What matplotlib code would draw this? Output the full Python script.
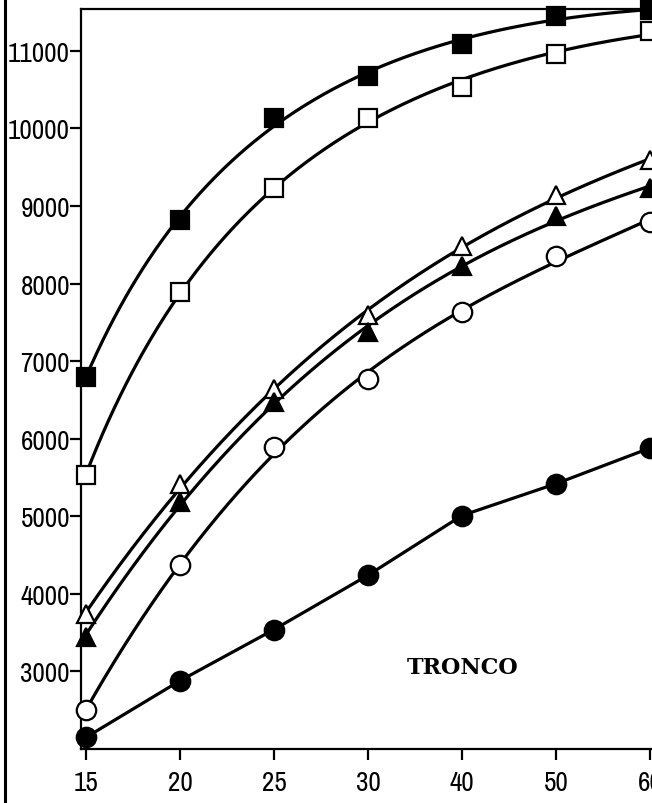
import matplotlib

matplotlib.use("Agg")
import matplotlib.pyplot as plt
from matplotlib.lines import Line2D
from matplotlib import font_manager
import numpy as np

# age classes on the x axis (equally spaced categories)
ages = [15, 20, 25, 30, 40, 50, 60]

# trunk values per series
filled_square = [6800, 8820, 10130, 10680, 11090, 11450, 11530]
open_square = [5530, 7890, 9230, 10140, 10540, 10960, 11260]
open_triangle = [3740, 5410, 6640, 7600, 8480, 9140, 9590]
filled_triangle = [3450, 5190, 6470, 7370, 8230, 8870, 9230]
open_circle = [2500, 4370, 5890, 6770, 7630, 8360, 8800]
filled_circle = [2150, 2880, 3540, 4240, 5010, 5420, 5880]

y_ticks = [3000, 4000, 5000, 6000, 7000, 8000, 9000, 10000, 11000]

# (values, marker, face colour, marker size, trend line: "log", "cubic" or None)
series = [
    (filled_square, "s", "black", 13, "log"),
    (open_square, "s", "white", 12.5, "log"),
    (open_triangle, "^", "white", 13, "cubic"),
    (filled_triangle, "^", "black", 13, "cubic"),
    (open_circle, "o", "white", 14, "cubic"),
    (filled_circle, "o", "black", 14, None),
]

names = sorted({f.name for f in font_manager.fontManager.ttflist})
narrow = [n for n in names if "Narrow" in n or "Condensed" in n]
label_family = [narrow[0], "DejaVu Sans"] if narrow else ["DejaVu Sans"]

fig = plt.figure(figsize=(6.52, 8.04), dpi=100)
ax = fig.add_axes([81 / 652, 54 / 804, (720 - 81) / 652, (794 - 54) / 804])

pos = np.arange(len(ages))
xs = np.linspace(pos[0], pos[-1], 300)
for vals, marker, face, ms, trend in series:
    vals = np.asarray(vals, dtype=float)
    if trend == "log":
        coef = np.polyfit(np.log(pos + 2.5), vals, 2)
        ax.plot(xs, np.polyval(coef, np.log(xs + 2.5)), color="black", lw=2.3,
                zorder=2, solid_capstyle="round")
    elif trend == "cubic":
        coef = np.polyfit(pos, vals, 3)
        ax.plot(xs, np.polyval(coef, xs), color="black", lw=2.3, zorder=2,
                solid_capstyle="round")
    else:
        ax.plot(pos, vals, color="black", lw=2.3, zorder=2)
    ax.plot(pos, vals, linestyle="none", marker=marker, ms=ms,
            markerfacecolor=face, markeredgecolor="black", mew=1.6,
            zorder=3, clip_on=False)

ax.set_xlim(-0.053, (720 - 86) / 94)
ax.set_ylim(2000, 11540)
ax.set_xticks(pos)
ax.set_xticklabels([str(a) for a in ages])
ax.set_yticks(y_ticks)
ax.set_yticklabels([str(v) for v in y_ticks])
for lab in ax.get_xticklabels() + ax.get_yticklabels():
    lab.set_family(label_family)
    lab.set_fontsize(19.5)

for side in ("left", "bottom", "top"):
    ax.spines[side].set_linewidth(1.6)
ax.spines["right"].set_visible(False)
ax.tick_params(axis="both", direction="out", length=8, width=1.6, pad=0)
ax.tick_params(axis="x", pad=7)

ax.text(4.01, 3060, "TRONCO", family="DejaVu Serif", fontweight="bold",
        fontsize=16, ha="center", va="center")

# vertical rule along the left edge of the sheet
fig.add_artist(Line2D([5 / 652, 5 / 652], [0, 1], color="black", lw=2.2,
                      transform=fig.transFigure))

fig.savefig("out.png", dpi=100)
